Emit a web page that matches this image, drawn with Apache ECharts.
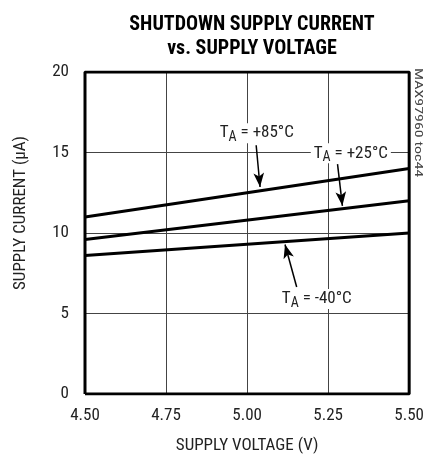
<!DOCTYPE html>
<html>
<head>
<meta charset="utf-8">
<script src="https://cdn.jsdelivr.net/npm/echarts@6/dist/echarts.min.js"></script>
<style>
  html, body { margin: 0; padding: 0; background: #fff; }
  #mycharts { width: 427px; height: 459px; }
</style>
</head>
<body>
<div id="mycharts"></div>
<script>
// supply voltage (V) at the two ends of each curve
var voltage = [4.5, 5.5];
// supply current (uA)
var current85 = [11.0, 14.0];
var current25 = [9.6, 12.0];
var currentM40 = [8.6, 10.0];

var xTicks = [4.5, 4.75, 5.0, 5.25, 5.5];
var yTicks = [0, 5, 10, 15, 20];

// annotation arrows: [from, to] in data units
var arrow85 = [[5.028, 15.45], [5.04, 12.86]];
var arrow25 = [[5.279, 14.28], [5.294, 11.69]];
var arrowM40 = [[5.153, 6.65], [5.117, 9.29]];
// label centres in data units
var label85 = [5.03, 16.2];
var label25 = [5.32, 14.95];
var labelM40 = [5.215, 5.9];

var font = "'Liberation Sans Narrow', 'Roboto Condensed', 'Liberation Sans', sans-serif";

function pairs(xs, ys) {
  return xs.map(function (x, i) { return [x, ys[i]]; });
}

function tempLabel(name, temp, pos) {
  return {
    name: name,
    coord: pos,
    symbol: "rect",
    symbolSize: 0,
    label: {
      show: true,
      position: "inside",
      formatter: "{t|T}{s|A}{t| = " + temp + "°C}",
      backgroundColor: "#fff",
      padding: [0, 3, 0, 3],
      rich: {
        t: { fontFamily: font, fontSize: 17, color: "#222", lineHeight: 20 },
        s: { fontFamily: font, fontSize: 14, color: "#222", lineHeight: 20, padding: [8, 0, 0, 0] }
      }
    }
  };
}

function arrowLine(a) {
  return [{ coord: a[0] }, { coord: a[1] }];
}

var myCharts = echarts.init(document.getElementById("mycharts"));

var lineStyle = { color: "#000", width: 3 };

var option = {
  animation: false,
  title: {
    text: "SHUTDOWN SUPPLY CURRENT\nvs. SUPPLY VOLTAGE",
    left: 247,
    top: 8,
    textAlign: "center",
    textStyle: {
      fontFamily: font,
      fontWeight: "bold",
      fontSize: 20,
      lineHeight: 24,
      color: "#000"
    }
  },
  graphic: [
    {
      type: "text",
      left: 412,
      top: 68,
      rotation: -Math.PI / 2,
      scaleX: 1.6,
      style: {
        text: "MAX97960 toc44",
        fontFamily: font,
        fontSize: 10,
        fill: "#444"
      }
    }
  ],
  grid: { left: 85, right: 17, top: 72, bottom: 63, containLabel: false },
  xAxis: {
    type: "value",
    min: xTicks[0],
    max: xTicks[xTicks.length - 1],
    interval: 0.25,
    name: "SUPPLY VOLTAGE (V)",
    nameLocation: "middle",
    nameGap: 43,
    nameTextStyle: { fontFamily: font, fontSize: 17, color: "#222" },
    axisLine: { show: false },
    axisTick: { show: false },
    axisLabel: {
      fontFamily: font,
      fontSize: 17,
      color: "#222",
      margin: 13,
      formatter: function (v) { return v.toFixed(2); }
    },
    splitLine: { show: true, lineStyle: { color: "#444", width: 1 } }
  },
  yAxis: {
    type: "value",
    min: yTicks[0],
    max: yTicks[yTicks.length - 1],
    interval: 5,
    name: "SUPPLY CURRENT (µA)",
    nameLocation: "middle",
    nameGap: 56,
    nameTextStyle: { fontFamily: font, fontSize: 17, color: "#222", padding: [0, 0, 0, 40] },
    axisLine: { show: false },
    axisTick: { show: false },
    axisLabel: { fontFamily: font, fontSize: 17, color: "#222", margin: 16 },
    splitLine: { show: true, lineStyle: { color: "#444", width: 1 } }
  },
  series: [
    {
      name: "+85",
      type: "line",
      data: pairs(voltage, current85),
      showSymbol: false,
      lineStyle: lineStyle,
      markLine: {
        silent: true,
        symbol: ["none", "arrow"],
        symbolSize: [8, 14],
        lineStyle: { color: "#000", width: 1.5, type: "solid" },
        label: { show: false },
        data: [arrowLine(arrow85), arrowLine(arrow25), arrowLine(arrowM40)]
      },
      markPoint: {
        silent: true,
        data: [
          tempLabel("l85", "+85", label85),
          tempLabel("l25", "+25", label25),
          tempLabel("lm40", "-40", labelM40)
        ]
      }
    },
    {
      name: "+25",
      type: "line",
      data: pairs(voltage, current25),
      showSymbol: false,
      lineStyle: lineStyle
    },
    {
      name: "-40",
      type: "line",
      data: pairs(voltage, currentM40),
      showSymbol: false,
      lineStyle: lineStyle
    },
    {
      // plot frame
      name: "frame",
      type: "line",
      data: [[4.5, 0], [5.5, 0], [5.5, 20], [4.5, 20], [4.5, 0]],
      showSymbol: false,
      silent: true,
      z: 5,
      lineStyle: { color: "#000", width: 3 }
    }
  ]
};

myCharts.setOption(option);
</script>
</body>
</html>
